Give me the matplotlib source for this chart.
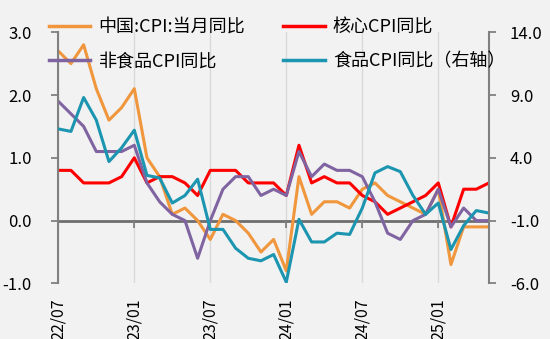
import numpy as np
import matplotlib.pyplot as plt

plt.rcParams['font.family'] = ['Noto Sans CJK SC', 'DejaVu Sans']
plt.rcParams['axes.unicode_minus'] = False

# monthly data, 2022/07 - 2025/05
months = ['22/07', '22/08', '22/09', '22/10', '22/11', '22/12',
          '23/01', '23/02', '23/03', '23/04', '23/05', '23/06',
          '23/07', '23/08', '23/09', '23/10', '23/11', '23/12',
          '24/01', '24/02', '24/03', '24/04', '24/05', '24/06',
          '24/07', '24/08', '24/09', '24/10', '24/11', '24/12',
          '25/01', '25/02', '25/03', '25/04', '25/05']

cpi = [2.7, 2.5, 2.8, 2.1, 1.6, 1.8,
       2.1, 1.0, 0.7, 0.1, 0.2, 0.0,
       -0.3, 0.1, 0.0, -0.2, -0.5, -0.3,
       -0.8, 0.7, 0.1, 0.3, 0.3, 0.2,
       0.5, 0.6, 0.4, 0.3, 0.2, 0.1,
       0.5, -0.7, -0.1, -0.1, -0.1]

core_cpi = [0.8, 0.8, 0.6, 0.6, 0.6, 0.7,
            1.0, 0.6, 0.7, 0.7, 0.6, 0.4,
            0.8, 0.8, 0.8, 0.6, 0.6, 0.6,
            0.4, 1.2, 0.6, 0.7, 0.6, 0.6,
            0.4, 0.3, 0.1, 0.2, 0.3, 0.4,
            0.6, -0.1, 0.5, 0.5, 0.6]

nonfood_cpi = [1.9, 1.7, 1.5, 1.1, 1.1, 1.1,
               1.2, 0.6, 0.3, 0.1, 0.0, -0.6,
               0.0, 0.5, 0.7, 0.7, 0.4, 0.5,
               0.4, 1.1, 0.7, 0.9, 0.8, 0.8,
               0.7, 0.3, -0.2, -0.3, 0.0, 0.1,
               0.5, -0.1, 0.2, 0.0, 0.0]

food_cpi = [6.3, 6.1, 8.8, 7.0, 3.7, 4.8,
            6.2, 2.6, 2.4, 0.4, 1.0, 2.3,
            -1.7, -1.7, -3.2, -4.0, -4.2, -3.7,
            -5.9, -0.9, -2.7, -2.7, -2.0, -2.1,
            0.0, 2.8, 3.3, 2.9, 1.0, -0.5,
            0.4, -3.3, -1.4, -0.2, -0.4]

tick_pos = [0, 6, 12, 18, 24, 30]
left_ticks = [-1.0, 0.0, 1.0, 2.0, 3.0]
right_ticks = [-6.0, -1.0, 4.0, 9.0, 14.0]

bg = '#f2f2f2'
axis_gray = '#808080'
c_cpi = '#F0963C'
c_core = '#FF0000'
c_nonfood = '#8064A2'
c_food = '#1C95B0'

def main():
    x = np.arange(len(months))

    fig = plt.figure(figsize=(5.5, 3.39), dpi=100, facecolor=bg)
    ax = fig.add_axes([0.106, 0.164, 0.783, 0.741], facecolor=bg)
    ax2 = ax.twinx()   # food on the right axis, drawn on top

    lw = 2.2
    l1, = ax.plot(x, cpi, color=c_cpi, lw=lw, label='中国:CPI:当月同比')
    l2, = ax.plot(x, core_cpi, color=c_core, lw=lw, label='核心CPI同比')
    l3, = ax.plot(x, nonfood_cpi, color=c_nonfood, lw=lw, label='非食品CPI同比')
    l4, = ax2.plot(x, food_cpi, color=c_food, lw=lw, label='食品CPI同比（右轴）')

    ax.set_xlim(0, len(months) - 1)
    ax.set_ylim(-1, 3)
    ax2.set_ylim(-6, 14)
    ax.set_yticks(left_ticks)
    ax.set_yticklabels([f'{v:.1f}' for v in left_ticks])
    ax2.set_yticks(right_ticks)
    ax2.set_yticklabels([f'{v:.1f}' for v in right_ticks])

    # x labels at the bottom of ax, no tick marks there
    ax.set_xticks(tick_pos)
    ax.set_xticklabels([months[i] for i in tick_pos], rotation=90)
    ax.tick_params(axis='x', length=0, pad=11, labelsize=11.5)
    ax.grid(axis='x', color='#d9d9d9', lw=1)
    ax.set_axisbelow(True)

    # zero line under the series
    ax.axhline(0, color='#6e6e6e', lw=2.0, zorder=1.5)

    # tick marks on the zero line: ax2's bottom spine moved to -1.0 (== 0.0 left)
    ax2.xaxis.set_visible(True)
    ax2.tick_params(axis='x', bottom=True, top=False, labelbottom=False,
                    labeltop=False, length=5, width=1.3, color=axis_gray)
    ax2.spines['bottom'].set_position(('data', -1.0))
    ax2.spines['bottom'].set_visible(False)

    for a in (ax, ax2):
        a.spines['top'].set_visible(False)
        a.spines['left'].set_color(axis_gray)
        a.spines['right'].set_color(axis_gray)
        a.spines['left'].set_linewidth(1.5)
        a.spines['right'].set_linewidth(1.5)
    ax.spines['bottom'].set_visible(False)
    ax.spines['right'].set_visible(False)
    ax2.spines['left'].set_visible(False)
    ax.tick_params(axis='y', length=5, width=1.3, color=axis_gray,
                   labelsize=12, pad=14)
    ax2.tick_params(axis='y', length=5, width=1.3, color=axis_gray,
                    labelsize=12, pad=10)

    leg = fig.legend([l1, l3, l2, l4],
                     [l.get_label() for l in (l1, l3, l2, l4)],
                     ncol=2, frameon=False, fontsize=13,
                     loc='upper left', bbox_to_anchor=(0.089, 0.946),
                     borderpad=0, borderaxespad=0,
                     handlelength=2.3, columnspacing=2.1, labelspacing=0.9,
                     handletextpad=0.45)
    for h in leg.legend_handles:
        h.set_linewidth(2.5)

    fig.savefig('out.png', dpi=100, facecolor=bg)


if __name__ == "__main__":
    main()
